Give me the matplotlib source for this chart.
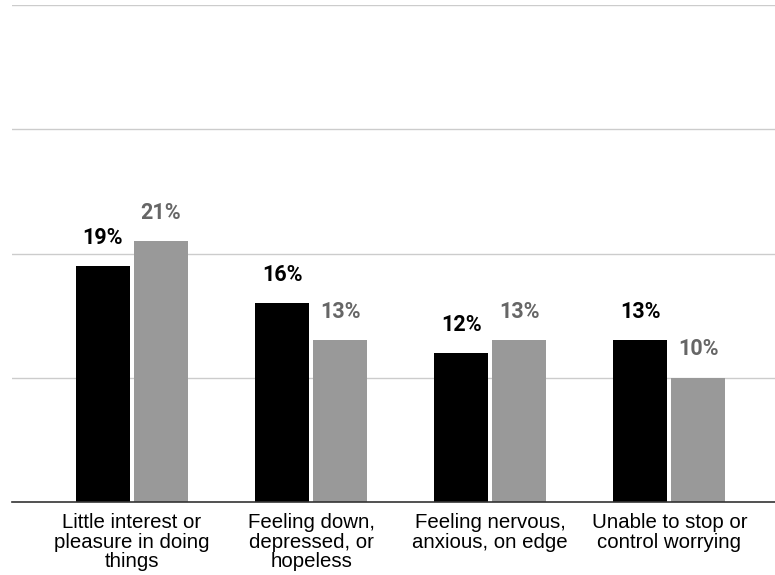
import matplotlib.pyplot as plt
import numpy as np

# datos
categorias = ["Little interest or\npleasure in doing\nthings",
              "Feeling down,\ndepressed, or\nhopeless",
              "Feeling nervous,\nanxious, on edge",
              "Unable to stop or\ncontrol worrying"]
serie_a = [19, 16, 12, 13]
serie_b = [21, 13, 13, 10]

fig = plt.figure(figsize=(7.75, 5.75), dpi=100)
ax = fig.add_axes([12 / 775, 1 - 502 / 575, 1 - 12 / 775, (502 - 5) / 575])

x = np.arange(len(categorias))
ancho = 0.3
off = 0.162

barras_a = ax.bar(x - off, serie_a, ancho, color='#000000', zorder=3)
barras_b = ax.bar(x + off, serie_b, ancho, color='#999999', zorder=3)

for b, v in zip(barras_a, serie_a):
    ax.annotate(f"{v}%", (b.get_x() + b.get_width() / 2, v), xytext=(0, 12.5),
                textcoords='offset points', ha='center', va='bottom',
                fontsize=15.5, fontweight='bold', color='#000000', family='Roboto')
for b, v in zip(barras_b, serie_b):
    ax.annotate(f"{v}%", (b.get_x() + b.get_width() / 2, v), xytext=(0, 12.5),
                textcoords='offset points', ha='center', va='bottom',
                fontsize=15.5, fontweight='bold', color='#666666', family='Roboto')

ax.set_ylim(0, 40)
ax.set_xlim(-0.67, 3.59)
ax.set_yticks([10, 20, 30, 40])
ax.yaxis.grid(True, color='#cccccc', linewidth=1)
ax.set_axisbelow(True)
ax.tick_params(axis='y', length=0, labelleft=False)
ax.tick_params(axis='x', length=0, pad=8)
ax.set_xticks(x)
ax.set_xticklabels(categorias, fontsize=14.7, family='Liberation Sans', linespacing=1.04)

for s in ['top', 'right', 'left']:
    ax.spines[s].set_visible(False)
ax.spines['bottom'].set_color('#333333')
ax.spines['bottom'].set_linewidth(1.2)
ax.spines['bottom'].set_zorder(4)

fig.savefig('out.png', dpi=100)
